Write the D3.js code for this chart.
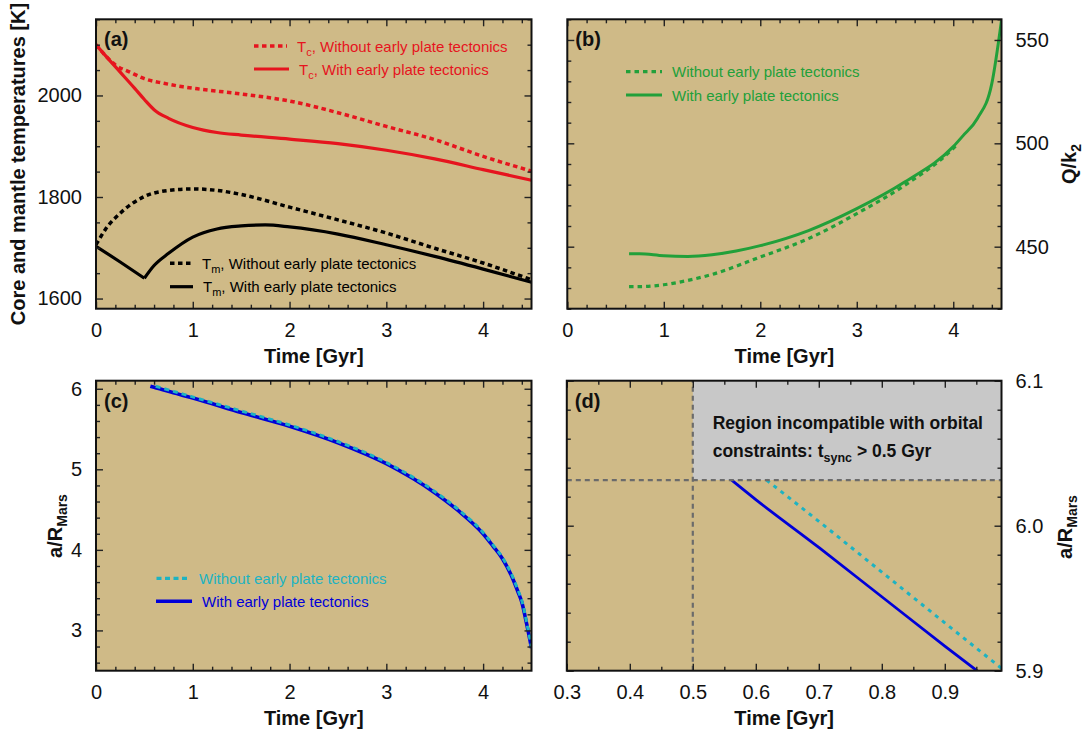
<!DOCTYPE html>
<html>
<head>
<meta charset="utf-8">
<title>Mars: core/mantle temperatures, Q/k2 and orbit of Phobos</title>
<script src="https://cdn.jsdelivr.net/npm/d3@7"></script>
<style>
  body { margin:0; background:#fff; }
  svg text { font-family:"Liberation Sans", Arial, Helvetica, sans-serif; fill:#111; }
</style>
</head>
<body>
<svg width="1086" height="737"></svg>
<script>
// ---- (a) core (Tc) and mantle (Tm) temperatures [K] vs time [Gyr]
var tcNoPT_t = [0, 0.1, 0.2, 0.35, 0.5, 0.7, 0.9, 1.05, 1.5, 2, 2.5, 3, 3.5, 4, 4.5];
var tcNoPT   = [2100, 2078, 2060, 2046, 2033, 2024, 2017, 2013, 2003, 1989, 1966, 1939, 1913, 1880, 1851];
var tcPT_t   = [0, 0.1, 0.25, 0.4, 0.5, 0.6, 0.75, 1, 1.25, 1.5, 2, 2.5, 3, 3.5, 4, 4.5];
var tcPT     = [2100, 2078, 2046, 2014, 1992, 1972, 1955, 1937, 1927, 1922, 1914, 1905, 1892, 1875, 1854, 1833];
var tmNoPT_t = [0, 0.05, 0.1, 0.25, 0.5, 0.75, 1, 1.25, 1.5, 2, 2.5, 3, 3.5, 4, 4.5];
var tmNoPT   = [1706, 1722, 1737, 1768, 1801, 1813, 1816, 1813, 1805, 1780, 1755, 1729, 1699, 1670, 1637];
var tmPT_t   = [0, 0.25, 0.5, 0.6, 0.75, 1, 1.25, 1.5, 1.75, 2, 2.5, 3, 3.5, 4, 4.5];
var tmPT     = [1703, 1672, 1640, 1665, 1689, 1721, 1737, 1743, 1745, 1741, 1727, 1706, 1683, 1658, 1632];

// ---- (b) Q/k2 vs time
var qNoPT_t = [0.64, 0.75, 1, 1.25, 1.5, 2, 2.5, 3, 3.5, 4, 4.05];
var qNoPT   = [430.7, 430.7, 431.6, 433.7, 436.6, 445, 453.9, 466, 479.8, 497.6, 500];
var qPT_t   = [0.64, 0.75, 1, 1.25, 1.5, 1.75, 2, 2.5, 3, 3.5, 4, 4.1, 4.25, 4.4, 4.5];
var qPT     = [446.6, 446.6, 445.6, 445.3, 446.1, 447.9, 450.5, 457.8, 468.4, 481.4, 498.4, 503.6, 512, 529, 559.5];

// ---- (c),(d) semi-major axis a/R_Mars vs time
var aPT_t   = [0.5615, 0.6, 0.7, 0.8, 0.9, 0.951, 1.0, 1.5, 2.0, 2.5, 3.0, 3.5, 3.75, 4.0, 4.1, 4.2, 4.3, 4.36, 4.4, 4.45, 4.5];
var aPT     = [6.0315, 6.018, 5.985, 5.951, 5.917, 5.900, 5.884, 5.705, 5.535, 5.33, 5.07, 4.71, 4.48, 4.20, 4.05, 3.89, 3.66, 3.48, 3.35, 3.08, 2.78];
var aNoPT_t = [0.617, 0.7, 0.8, 0.9, 0.989, 1.5, 2.0, 2.5, 3.0, 3.5, 3.75, 4.0, 4.1, 4.2, 4.3, 4.36, 4.4, 4.45, 4.5];
var aNoPT   = [6.0315, 6.003, 5.968, 5.933, 5.902, 5.725, 5.55, 5.345, 5.085, 4.725, 4.495, 4.215, 4.065, 3.905, 3.68, 3.50, 3.37, 3.10, 2.79];

// ---- (d) t_sync limit
var syncTime = 0.5, syncA = 6.0315;

// ---- tick labels
var timeTicks = [0, 1, 2, 3, 4];
var tempTicks = [1600, 1800, 2000];
var qTicks    = [450, 500, 550];
var aTicks    = [3, 4, 5, 6];
var zoomTimeTicks = [0.3, 0.4, 0.5, 0.6, 0.7, 0.8, 0.9];
var zoomATicks    = [5.9, 6.0, 6.1];

var red = "#e6141e", green = "#22a03a", blue = "#0000d8", cyan = "#1db3c2";
var svg = d3.select("svg");

function makePanel(id, box, xdom, ydom) {
  var x = d3.scaleLinear().domain(xdom).range([box[0], box[1]]);
  var y = d3.scaleLinear().domain(ydom).range([box[3], box[2]]);
  var g = svg.append("g");
  g.append("clipPath").attr("id", "clip" + id).append("rect")
    .attr("x", box[0]).attr("y", box[2]).attr("width", box[1]-box[0]).attr("height", box[3]-box[2]);
  g.append("rect").attr("x", box[0]).attr("y", box[2])
    .attr("width", box[1]-box[0]).attr("height", box[3]-box[2]).attr("fill", "#cfba87");
  var plot = g.append("g").attr("clip-path", "url(#clip" + id + ")");
  return {x:x, y:y, g:g, plot:plot, box:box};
}

function styleAxis(sel) {
  sel.select(".domain").remove();
  sel.selectAll("line").attr("stroke", "#222").attr("stroke-width", 1.4);
  sel.selectAll("text").attr("font-size", 20).attr("font-family", null).attr("fill", "#111");
}

function drawAxes(p, xMaj, xMin, yMaj, yMin, ySide, xFmt, yFmt) {
  var b = p.box;
  var ax = p.g.append("g");
  ax.append("g").attr("transform", "translate(0," + b[3] + ")")
    .call(d3.axisBottom(p.x).tickValues(xMaj).tickSize(-7).tickPadding(14.4).tickFormat(xFmt)).call(styleAxis);
  ax.append("g").attr("transform", "translate(0," + b[3] + ")")
    .call(d3.axisBottom(p.x).tickValues(xMin).tickSize(-4).tickFormat("")).call(styleAxis);
  ax.append("g").attr("transform", "translate(0," + b[2] + ")")
    .call(d3.axisTop(p.x).tickValues(xMaj).tickSize(-7).tickFormat("")).call(styleAxis);
  ax.append("g").attr("transform", "translate(0," + b[2] + ")")
    .call(d3.axisTop(p.x).tickValues(xMin).tickSize(-4).tickFormat("")).call(styleAxis);

  var lab = ySide == "left" ? d3.axisLeft : d3.axisRight;
  var mir = ySide == "left" ? d3.axisRight : d3.axisLeft;
  var xl = ySide == "left" ? b[0] : b[1];
  var xm = ySide == "left" ? b[1] : b[0];
  ax.append("g").attr("transform", "translate(" + xl + ",0)")
    .call(lab(p.y).tickValues(yMaj).tickSize(-7).tickPadding(14).tickFormat(yFmt)).call(styleAxis);
  ax.append("g").attr("transform", "translate(" + xl + ",0)")
    .call(lab(p.y).tickValues(yMin).tickSize(-4).tickFormat("")).call(styleAxis);
  ax.append("g").attr("transform", "translate(" + xm + ",0)")
    .call(mir(p.y).tickValues(yMaj).tickSize(-7).tickFormat("")).call(styleAxis);
  ax.append("g").attr("transform", "translate(" + xm + ",0)")
    .call(mir(p.y).tickValues(yMin).tickSize(-4).tickFormat("")).call(styleAxis);
}

function frame(p) {
  var b = p.box;
  p.g.append("rect").attr("x", b[0]).attr("y", b[2]).attr("width", b[1]-b[0]).attr("height", b[3]-b[2])
    .attr("fill", "none").attr("stroke", "#111").attr("stroke-width", 2);
}

// smooth curve through the read points (time is increasing in every series)
function curve(p, ts, vs, color, width, dash) {
  var line = d3.line().curve(d3.curveMonotoneX)
    .x(function(d){ return p.x(d[0]); }).y(function(d){ return p.y(d[1]); });
  p.plot.append("path").datum(d3.zip(ts, vs)).attr("d", line)
    .attr("fill", "none").attr("stroke", color).attr("stroke-width", width)
    .attr("stroke-dasharray", dash || null).attr("stroke-linejoin", "round");
}

function minors(dom, step, majors) {
  var out = [];
  var n = Math.round((dom[1]-dom[0]) / step);
  for (var i = 0; i <= n + 1; i++) {
    var v = +(Math.ceil(dom[0]/step - 1e-9) * step + i * step).toFixed(4);
    if (v > dom[1] + 1e-9) break;
    if (majors.every(function(m){ return Math.abs(m - v) > 1e-6; })) out.push(v);
  }
  return out;
}

function panelLabel(p, txt) {
  p.g.append("text").attr("x", p.box[0] + 8).attr("y", p.box[2] + 27)
    .attr("font-size", 20).attr("font-weight", "bold").text(txt);
}

function xTitle(p) {
  p.g.append("text").attr("x", (p.box[0]+p.box[1])/2).attr("y", p.box[3] + 54.5)
    .attr("text-anchor", "middle").attr("font-size", 20).attr("font-weight", "bold").text("Time [Gyr]");
}

function yTitle(x, yc, main, sub) {
  var t = svg.append("text").attr("transform", "translate(" + x + "," + yc + ") rotate(-90)")
    .attr("text-anchor", "middle").attr("font-size", 20).attr("font-weight", "bold");
  t.append("tspan").text(main);
  if (sub) t.append("tspan").attr("dy", 5).attr("font-size", 14).text(sub);
}

function legendRow(g, x0, x1, y, color, width, dash, sym, sub, label) {
  g.append("line").attr("x1", x0).attr("x2", x1).attr("y1", y).attr("y2", y)
    .attr("stroke", color).attr("stroke-width", width).attr("stroke-dasharray", dash || null);
  var t = g.append("text").attr("x", x1 + 10).attr("y", y + 5.5).attr("font-size", 15).style("fill", color);
  if (sym) {
    t.append("tspan").text(sym);
    t.append("tspan").attr("dy", 4).attr("font-size", 11).text(sub);
    t.append("tspan").attr("dy", -4).text(", " + label);
  } else {
    t.text(label);
  }
}

// ================= (a)
var pa = makePanel("a", [96, 531.5, 19.3, 308.7], [0, 4.5], [1580, 2150]);
curve(pa, tcNoPT_t, tcNoPT, red, 3.5, "4.5,3.5");
curve(pa, tcPT_t, tcPT, red, 3.2);
curve(pa, tmNoPT_t, tmNoPT, "#000", 3.5, "4.5,3.5");
// Tm with early plate tectonics has a sharp minimum at 0.5 Gyr: two pieces
var kink = tmPT_t.indexOf(0.5);
curve(pa, tmPT_t.slice(0, kink + 1), tmPT.slice(0, kink + 1), "#000", 3.2);
curve(pa, tmPT_t.slice(kink), tmPT.slice(kink), "#000", 3.2);
drawAxes(pa, timeTicks, minors([0, 4.5], 0.2, timeTicks), tempTicks, minors([1580, 2150], 50, tempTicks), "left", d3.format("d"), d3.format("d"));
frame(pa);
panelLabel(pa, "(a)");
xTitle(pa);
legendRow(pa.g, 254, 287, 46, red, 3.5, "4.5,3.5", "T", "c", "Without early plate tectonics");
legendRow(pa.g, 254, 289, 69, red, 3.2, null, "T", "c", "With early plate tectonics");
legendRow(pa.g, 170, 192, 263.3, "#000", 3.5, "4.5,3.5", "T", "m", "Without early plate tectonics");
legendRow(pa.g, 170, 193, 286.7, "#000", 3.2, null, "T", "m", "With early plate tectonics");
yTitle(24.5, 164, "Core and mantle temperatures [K]");

// ================= (b)
var pb = makePanel("b", [567.3, 1001.5, 19.3, 308.7], [0, 4.5], [420, 560]);
curve(pb, qNoPT_t, qNoPT, green, 3.2, "4.5,4");
curve(pb, qPT_t, qPT, green, 3);
drawAxes(pb, timeTicks, minors([0, 4.5], 0.2, timeTicks), qTicks, minors([420, 560], 10, qTicks), "right", d3.format("d"), d3.format("d"));
frame(pb);
panelLabel(pb, "(b)");
xTitle(pb);
legendRow(pb.g, 626, 662, 71.7, green, 3.2, "4.5,4", null, null, "Without early plate tectonics");
legendRow(pb.g, 626, 662, 95, green, 3, null, null, null, "With early plate tectonics");
yTitle(1075.5, 164, "Q/k", "2");

// ================= (c)
var pc = makePanel("c", [96, 531.5, 380.7, 670.7], [0, 4.5], [2.5, 6.1]);
curve(pc, aPT_t, aPT, blue, 3.6);
curve(pc, aNoPT_t, aNoPT, cyan, 3, "5,4");
drawAxes(pc, timeTicks, minors([0, 4.5], 0.2, timeTicks), aTicks, minors([2.5, 6.1], 0.2, aTicks), "left", d3.format("d"), d3.format("d"));
frame(pc);
panelLabel(pc, "(c)");
xTitle(pc);
legendRow(pc.g, 156.5, 189, 578.3, cyan, 3.2, "5,3.5", null, null, "Without early plate tectonics");
legendRow(pc.g, 156, 192, 601.3, blue, 3.6, null, null, null, "With early plate tectonics");
yTitle(62, 526, "a/R", "Mars");

// ================= (d)
var pd = makePanel("d", [566.8, 1001.5, 380.7, 670.7], [0.3, 0.99], [5.9, 6.1]);
pd.plot.append("rect").attr("x", pd.x(syncTime)).attr("y", pd.y(6.1))
  .attr("width", pd.x(0.99) - pd.x(syncTime)).attr("height", pd.y(syncA) - pd.y(6.1)).attr("fill", "#c8c8c8");
curve(pd, aNoPT_t, aNoPT, cyan, 3, "4,5");
curve(pd, aPT_t, aPT, blue, 2.8);
pd.plot.append("line").attr("x1", pd.x(syncTime)).attr("x2", pd.x(syncTime)).attr("y1", pd.y(5.9)).attr("y2", pd.y(6.1))
  .attr("stroke", "#6b6b6b").attr("stroke-width", 2.2).attr("stroke-dasharray", "5,4");
pd.plot.append("line").attr("x1", pd.x(0.3)).attr("x2", pd.x(0.99)).attr("y1", pd.y(syncA)).attr("y2", pd.y(syncA))
  .attr("stroke", "#6b6b6b").attr("stroke-width", 2.2).attr("stroke-dasharray", "5,4");
drawAxes(pd, zoomTimeTicks, minors([0.3, 0.99], 0.05, zoomTimeTicks), zoomATicks, minors([5.9, 6.1], 0.02, zoomATicks), "right", d3.format(".1f"), d3.format(".1f"));
frame(pd);
panelLabel(pd, "(d)");
xTitle(pd);
pd.g.append("text").attr("x", 712.7).attr("y", 429).attr("font-size", 17.5).attr("font-weight", "bold")
  .text("Region incompatible with orbital");
var t2 = pd.g.append("text").attr("x", 712.7).attr("y", 457.3).attr("font-size", 17.5).attr("font-weight", "bold");
t2.append("tspan").text("constraints: t");
t2.append("tspan").attr("dy", 5).attr("font-size", 12.5).text("sync");
t2.append("tspan").attr("dy", -5).text(" > 0.5 Gyr");
yTitle(1071.5, 527, "a/R", "Mars");
</script>
</body>
</html>
